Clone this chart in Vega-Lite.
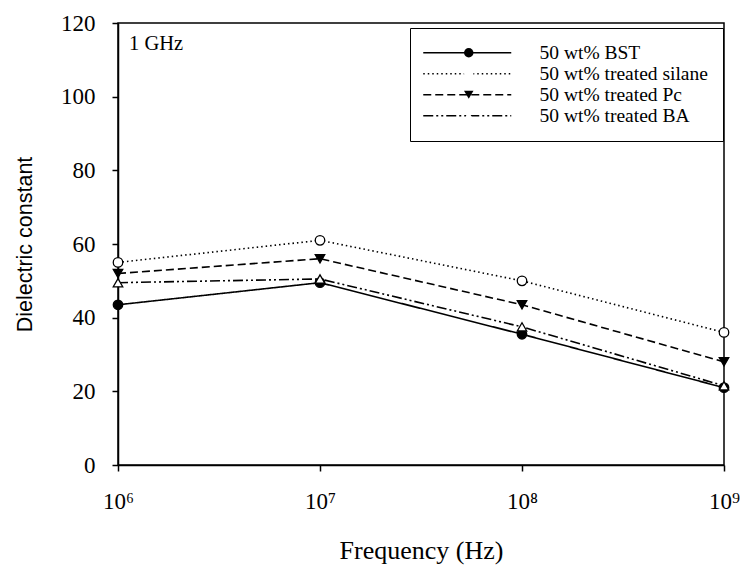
{
  "$schema": "https://vega.github.io/schema/vega-lite/v6.json",
  "autosize": "none",
  "width": 606,
  "height": 442,
  "padding": {"left": 118, "top": 23, "right": 22, "bottom": 104},
  "background": "white",
  "config": {
    "font": "Liberation Serif",
    "view": {"stroke": "black", "strokeWidth": 1.5},
    "axis": {"labelFont": "Liberation Serif", "titleFont": "Liberation Serif", "labelColor": "black", "titleColor": "black", "domainColor": "black", "tickColor": "black", "grid": false, "titleFontWeight": "normal", "labelFontSize": 23, "titleFontSize": 26, "domainWidth": 1.5, "tickWidth": 1.5, "tickSize": 6},
    "legend": {"labelFont": "Liberation Serif", "labelColor": "black"}
  },
  "data": {
    "values": [
      {"series": "50 wt% BST", "freq": 1000000, "eps": 43.5},
      {"series": "50 wt% BST", "freq": 10000000, "eps": 49.5},
      {"series": "50 wt% BST", "freq": 100000000, "eps": 35.5},
      {"series": "50 wt% BST", "freq": 1000000000, "eps": 21},
      {"series": "50 wt% treated silane", "freq": 1000000, "eps": 55},
      {"series": "50 wt% treated silane", "freq": 10000000, "eps": 61},
      {"series": "50 wt% treated silane", "freq": 100000000, "eps": 50},
      {"series": "50 wt% treated silane", "freq": 1000000000, "eps": 36},
      {"series": "50 wt% treated Pc", "freq": 1000000, "eps": 52},
      {"series": "50 wt% treated Pc", "freq": 10000000, "eps": 56},
      {"series": "50 wt% treated Pc", "freq": 100000000, "eps": 43.5},
      {"series": "50 wt% treated Pc", "freq": 1000000000, "eps": 28},
      {"series": "50 wt% treated BA", "freq": 1000000, "eps": 49.5},
      {"series": "50 wt% treated BA", "freq": 10000000, "eps": 50.5},
      {"series": "50 wt% treated BA", "freq": 100000000, "eps": 37.5},
      {"series": "50 wt% treated BA", "freq": 1000000000, "eps": 21.5}
    ]
  },
  "layer": [
    {
      "mark": {"type": "line", "color": "black", "strokeWidth": 1.6},
      "encoding": {
        "x": {"field": "freq", "type": "quantitative",
          "scale": {"type": "log", "domain": [1000000, 1000000000], "nice": false},
          "axis": {"values": [1000000, 10000000, 100000000, 1000000000], "title": "Frequency (Hz)", "labelPadding": 19, "titlePadding": 24,
            "labelExpr": "'10' + ({'6':'⁶','7':'⁷','8':'⁸','9':'⁹'})[format(round(log(datum.value)/LN10),'d')]", "labelFlush": false}},
        "y": {"field": "eps", "type": "quantitative",
          "scale": {"domain": [0, 120], "nice": false},
          "axis": {"values": [0, 20, 40, 60, 80, 100, 120], "title": "Dielectric constant", "titleFont": "Liberation Sans", "titleFontSize": 21.5, "labelPadding": 17, "titlePadding": 24}},
        "detail": {"field": "series"},
        "strokeDash": {"field": "series", "type": "nominal",
          "sort": ["50 wt% BST", "50 wt% treated silane", "50 wt% treated Pc", "50 wt% treated BA"],
          "scale": {"range": [[1, 0], [1.5, 3], [8, 4], [10, 3, 2, 3, 2, 3]]},
          "legend": {"title": null, "orient": "none", "legendX": 292, "legendY": 5, "padding": 15,
            "strokeColor": "black", "fillColor": null,
            "symbolType": "M-8,0H8", "symbolSize": 121, "symbolOffset": 32.5, "symbolStrokeColor": "black", "symbolStrokeWidth": 1.6, "symbolFillColor": "transparent",
            "labelFontSize": 19.5, "labelOffset": 62.5, "rowPadding": 0, "labelLimit": 300, "zindex": 1}}
      }
    },
    {
      "mark": {"type": "point", "stroke": "black", "strokeWidth": 1.3, "opacity": 1, "filled": false},
      "encoding": {
        "x": {"field": "freq", "type": "quantitative"},
        "y": {"field": "eps", "type": "quantitative"},
        "shape": {"field": "series", "type": "nominal",
          "scale": {"domain": ["50 wt% BST", "50 wt% treated silane", "50 wt% treated Pc", "50 wt% treated BA"], "range": ["circle", "circle", "triangle-down", "triangle-up"]},
          "legend": {"title": null, "orient": "none", "legendX": 326, "legendY": 5, "padding": 15,
            "symbolSize": 90, "symbolStrokeColor": "black", "symbolStrokeWidth": 1.3, "symbolOpacity": 1,
            "labelFontSize": 19.5, "labelExpr": "''", "rowPadding": 0, "zindex": 2}},
        "fill": {"field": "series", "type": "nominal",
          "scale": {"domain": ["50 wt% BST", "50 wt% treated silane", "50 wt% treated Pc", "50 wt% treated BA"], "range": ["black", "white", "black", "white"]},
          "legend": {"title": null, "orient": "none", "legendX": 326, "legendY": 5, "padding": 15,
            "symbolSize": 90, "symbolStrokeColor": "black", "symbolStrokeWidth": 1.3,
            "labelFontSize": 19.5, "labelExpr": "''", "rowPadding": 0, "zindex": 2}},
        "size": {"value": 90}
      }
    },
    {
      "data": {"values": [{"note": "1 GHz"}]},
      "mark": {"type": "text", "align": "left", "baseline": "middle", "fontSize": 20.5, "font": "Liberation Serif", "fill": "black"},
      "encoding": {"text": {"field": "note", "type": "nominal"}, "x": {"datum": 1134000, "type": "quantitative"}, "y": {"datum": 114.4, "type": "quantitative"}}
    }
  ]
}
